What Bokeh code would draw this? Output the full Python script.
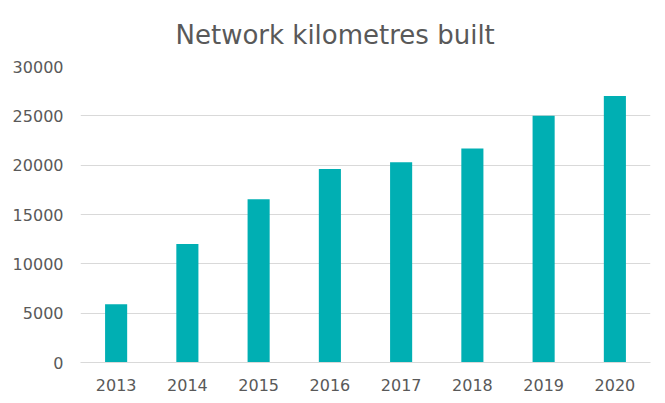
from bokeh.plotting import figure
from bokeh.models import ColumnDataSource, Range1d, FixedTicker, Title
from bokeh.embed import file_html
from bokeh.resources import INLINE

years = ["2013", "2014", "2015", "2016", "2017", "2018", "2019", "2020"]
km_built = [5900, 12000, 16550, 19600, 20300, 21700, 25000, 27000]
y_ticks = [0, 5000, 10000, 15000, 20000, 25000, 30000]

source = ColumnDataSource(data=dict(year=years, km=km_built))

p = figure(x_range=years, y_range=Range1d(0, 30000), width=665, height=403,
           output_backend="svg", toolbar_location=None,
           min_border_left=80, min_border_right=15, min_border_top=66, min_border_bottom=41)

p.vbar(x="year", top="km", width=0.31, source=source, color="#00AFB3", line_color=None)

t = Title(text="Network kilometres built", align="left", offset=95,
          text_font="DejaVu Sans", text_font_size="26px", text_font_style="normal",
          text_color="#595959", standoff=33)
p.add_layout(t, "above")

p.outline_line_color = None
p.xgrid.grid_line_color = None
p.ygrid.grid_line_color = "#D9D9D9"
p.ygrid.grid_line_width = 1

p.yaxis.ticker = FixedTicker(ticks=y_ticks)
p.yaxis.axis_line_color = None
p.yaxis.major_tick_line_color = None
p.yaxis.minor_tick_line_color = None
p.yaxis.major_label_standoff = 11

p.xaxis.axis_line_color = "#D9D9D9"
p.xaxis.major_tick_line_color = None
p.xaxis.minor_tick_line_color = None
p.xaxis.major_label_standoff = 10

for ax in (p.xaxis, p.yaxis):
    ax.major_label_text_font = "DejaVu Sans"
    ax.major_label_text_font_size = "16px"
    ax.major_label_text_color = "#595959"

open("out.html", "w").write(file_html(p, INLINE))
